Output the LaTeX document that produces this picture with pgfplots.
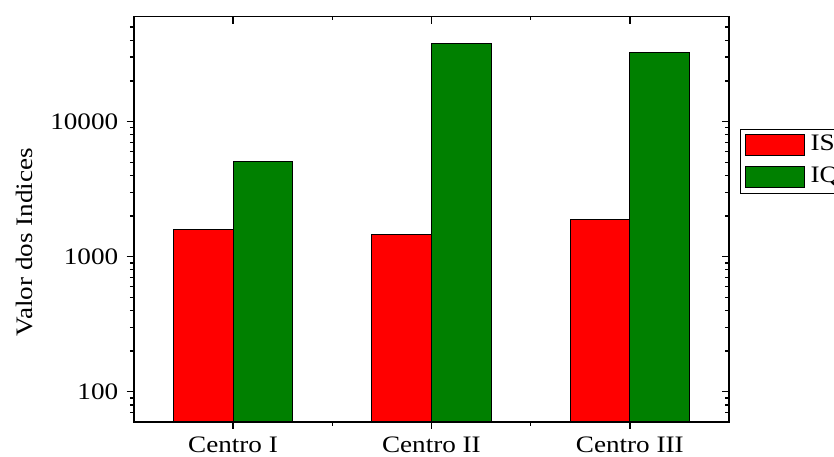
\documentclass[border=0pt]{standalone}
\usepackage{fontspec}
\setmainfont[FakeStretch=1.15]{Liberation Serif}
\usepackage{pgfplots}
\pgfplotsset{compat=1.18}

\definecolor{barred}{RGB}{255,0,0}
\definecolor{bargreen}{RGB}{0,128,0}

\pgfplotsset{
  barlegend/.style={
    legend image code/.code={\draw[##1] (0pt,-5.25pt) rectangle (29.5pt,5.25pt);}},
}

\begin{document}
\begin{tikzpicture}
\begin{axis}[name=ax,
    at={(0,0)}, anchor=south west,
    scale only axis, width=297.6pt, height=202.6pt,
    ymode=log, ymin=60, ymax=60000,
    xmin=0.5, xmax=3.5,
    xtick={1,2,3}, minor xtick={1.5,2.5},
    ytick={100,1000,10000},
    minor ytick={70,80,90,200,300,400,500,600,700,800,900,
                 2000,3000,4000,5000,6000,7000,8000,9000,
                 20000,30000,40000,50000},
    major tick length=3.6pt, minor tick length=2pt,
    axis line style={line width=0.8pt},
    tick style={line width=0.7pt, black},
    ybar=0pt, bar width=29.8pt,
    tick align=outside,
    xtick pos=left, ytick pos=left,
    xticklabels={Centro I, Centro II, Centro III},
    yticklabels={100,1000,10000},
    tick label style={font=\fontsize{11.8}{14}\selectfont},
    yticklabel style={inner sep=0pt, xshift=-4pt},
    xticklabel style={inner sep=0pt, yshift=-4pt},
    ylabel={Valor dos Indices},
    ylabel style={font=\fontsize{11.8}{14}\selectfont, inner sep=0pt,
        at={(rel axis cs:0,0.443)}, anchor=south, yshift=50.4pt},
    legend style={at={(1.0185,0.7224)}, anchor=north west,
        draw=black, line width=0.5pt,
        font=\fontsize{11.8}{14}\selectfont,
        nodes={inner sep=0pt, text height=7.9pt, text depth=2.6pt},
        inner xsep=2pt, inner ysep=2.5pt, row sep=5pt, column sep=3pt},
    legend cell align=left,
  ]
\addplot[fill=barred, draw=black, line width=0.5pt, barlegend]
  coordinates {(1,1600) (2,1470) (3,1900)};
\addplot[fill=bargreen, draw=black, line width=0.5pt, barlegend]
  coordinates {(1,5030) (2,38000) (3,32400)};
\legend{IS, IQ}
\end{axis}
\begin{axis}[
    at={(0,0)}, anchor=south west,
    scale only axis, width=297.6pt, height=202.6pt,
    ymode=log, ymin=60, ymax=60000,
    xmin=0.5, xmax=3.5,
    xtick={1,2,3}, minor xtick={1.5,2.5},
    ytick={100,1000,10000},
    minor ytick={70,80,90,200,300,400,500,600,700,800,900,
                 2000,3000,4000,5000,6000,7000,8000,9000,
                 20000,30000,40000,50000},
    major tick length=3.6pt, minor tick length=2pt,
    axis line style={line width=0.8pt},
    tick style={line width=0.7pt, black},
    tick align=inside,
    xtick pos=right, ytick pos=right,
    xticklabels={}, yticklabels={},
  ]
\end{axis}
\pgfresetboundingbox
\path[use as bounding box] ([shift={(-66.9pt,-17.15pt)}]ax.south west)
  rectangle ([shift={(350.1pt,210.85pt)}]ax.south west);
\end{tikzpicture}
\end{document}
